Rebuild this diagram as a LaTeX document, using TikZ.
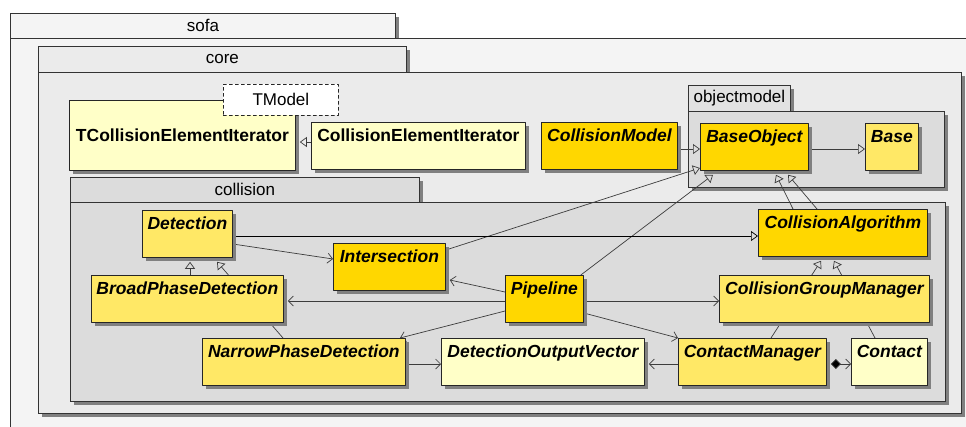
\documentclass[tikz,border=0pt]{standalone}
\usepackage{fontspec}
\setmainfont{Liberation Sans}
\usetikzlibrary{arrows.meta,shadows}

\definecolor{clsgold}{HTML}{FFD700}
\definecolor{clsyellow}{HTML}{FFE866}
\definecolor{clspale}{HTML}{FFFFC8}
\definecolor{pkgsofa}{HTML}{F4F4F4}
\definecolor{pkgcore}{HTML}{EBEBEB}
\definecolor{pkginner}{HTML}{DCDCDC}
\definecolor{shade}{HTML}{808080}
\definecolor{wire}{HTML}{3C3C3C}

\pgfdeclarelayer{pkglayer}
\pgfdeclarelayer{wirelayer}
\pgfsetlayers{pkglayer,wirelayer,main}

\tikzset{
  boxshadow/.style={drop shadow={shadow xshift=4pt,shadow yshift=-4pt,fill=shade,opacity=1}},
  pkgtab/.style={draw=black!80,line width=.8pt,anchor=north west,inner sep=0pt,font=\fontsize{17}{20}\selectfont,boxshadow},
  pkgbody/.style={draw=black!80,line width=.8pt,anchor=north west,inner sep=0pt,boxshadow},
  cls/.style={draw=black!85,line width=.8pt,anchor=north west,inner xsep=4pt,inner ysep=5pt,text height=14pt,text depth=23pt,font=\fontsize{17.5}{21}\selectfont\bfseries\itshape,boxshadow},
  upright/.style={font=\fontsize{17.5}{21}\selectfont\bfseries},
  tparam/.style={draw=black!85,dashed,line width=.7pt,fill=white,anchor=north west,inner sep=0pt,font=\fontsize{17}{20}\selectfont},
  gen/.style={draw=wire,line width=.7pt,-{Triangle[open,length=7pt,width=10pt]}},
  dep/.style={draw=wire,line width=.7pt,-{Straight Barb[length=5pt,width=10pt]}},
  comp/.style={draw=wire,line width=.7pt,{Diamond[length=10pt,width=10pt,fill=black]}-{Straight Barb[length=5pt,width=10pt]}}
}

\begin{document}
\begin{tikzpicture}[x=1pt,y=-1pt,line cap=round,line join=round]
    \useasboundingbox (0,0) rectangle (966,426);

    % packages
    \begin{pgfonlayer}{pkglayer}
    \fill[white] (0,0) rectangle (966,426);
    \node[pkgtab,fill=pkgsofa,minimum width=385,minimum height=25] (sofatab) at (10,13) {sofa};
    \node[pkgbody,fill=pkgsofa,minimum width=975,minimum height=420] (sofabody) at (10,38) {};
    \node[pkgtab,fill=pkgcore,minimum width=368,minimum height=26] (coretab) at (38,46) {core};
    \node[pkgbody,fill=pkgcore,minimum width=923,minimum height=341] (corebody) at (38,72) {};
    \node[pkgtab,fill=pkginner!60!pkgcore,minimum width=102,minimum height=26] (omtab) at (688,85) {objectmodel};
    \node[pkgbody,fill=pkginner,minimum width=256,minimum height=76] (ombody) at (688,111) {};
    \node[pkgtab,fill=pkginner,minimum width=349,minimum height=25] (colltab) at (70,177) {collision};
    \node[pkgbody,fill=pkginner,minimum width=875,minimum height=199] (collbody) at (70,202) {};
    \end{pgfonlayer}

    % classes
    \node[cls,upright,fill=clspale,minimum width=226,text height=36.5pt] (tcei) at (69,100) {TCollisionElementIterator};
    \node[tparam,minimum width=115,minimum height=31] (tmodel) at (223,84) {TModel};
    \node[cls,upright,fill=clspale,minimum width=214] (cei) at (311,122) {CollisionElementIterator};
    \node[cls,fill=clsgold,minimum width=136] (cmodel) at (541,122) {CollisionModel};
    \node[cls,fill=clsgold,minimum width=108] (baseobj) at (700,123) {BaseObject};
    \node[cls,fill=clsyellow,minimum width=53] (base) at (865,123) {Base};

    \node[cls,fill=clsyellow,minimum width=90] (detection) at (142,210) {Detection};
    \node[cls,fill=clsyellow,minimum width=192] (broad) at (91,275) {BroadPhaseDetection};
    \node[cls,fill=clsyellow,minimum width=203] (narrow) at (202,338) {NarrowPhaseDetection};
    \node[cls,fill=clsgold,minimum width=112] (inter) at (333,243) {Intersection};
    \node[cls,fill=clspale,minimum width=203] (dov) at (441,338) {DetectionOutputVector};
    \node[cls,fill=clsgold,minimum width=78] (pipe) at (505,275) {Pipeline};
    \node[cls,fill=clsgold,minimum width=169] (calg) at (758,209) {CollisionAlgorithm};
    \node[cls,fill=clsyellow,minimum width=210] (cgm) at (719,275) {CollisionGroupManager};
    \node[cls,fill=clsyellow,minimum width=148] (cman) at (678,338) {ContactManager};
    \node[cls,fill=clspale,minimum width=76] (contact) at (851,338) {Contact};

    % connectors (tips stop at the shadow edge)
    \begin{pgfonlayer}{wirelayer}
    \draw[gen] (cei.west |- 0,142) -- ([xshift=4pt]tcei.east |- 0,142);
    \draw[gen] (cmodel.east |- 0,149) -- (baseobj.west |- 0,149);
    \draw[gen] (baseobj.east |- 0,149) -- (base.west |- 0,149);
    \draw[gen] (inter.east |- 0,250) -- (baseobj.west |- 0,168);
    \draw[gen] ([xshift=-3pt]pipe.north east) -- ([yshift=-4pt]713,0 |- baseobj.south);
    \draw[gen] (793,0 |- calg.north) -- ([yshift=-4pt]776,0 |- baseobj.south);
    \draw[gen] (817,0 |- calg.north) -- ([yshift=-4pt]788,0 |- baseobj.south);
    \draw[gen,draw=black] (detection.east |- 0,236) -- (calg.west |- 0,236);
    \draw[gen] (190,0 |- broad.north) -- ([yshift=-4pt]190,0 |- detection.south);
    \draw[gen] (283,0 |- narrow.north) -- ([yshift=-4pt]217,0 |- detection.south);
    \draw[gen] (771,0 |- cman.north) -- ([yshift=-4pt]821,0 |- calg.south);
    \draw[gen] (875,0 |- contact.north) -- ([yshift=-4pt]834,0 |- calg.south);
    \draw[dep] (detection.east |- 0,244) -- (inter.west |- 0,259);
    \draw[dep] (pipe.west |- 0,292) -- ([xshift=4pt]inter.east |- 0,280);
    \draw[dep] (pipe.west |- 0,301) -- ([xshift=4pt]broad.east |- 0,301);
    \draw[dep] (pipe.west |- 0,311) -- (400,0 |- narrow.north);
    \draw[dep] (pipe.east |- 0,301) -- (cgm.west |- 0,301);
    \draw[dep] (pipe.east |- 0,313) -- (cman.north west);
    \draw[dep] (narrow.east |- 0,364) -- (dov.west |- 0,364);
    \draw[dep] (cman.west |- 0,364) -- ([xshift=4pt]dov.east |- 0,364);
    \draw[comp] ([xshift=4pt]cman.east |- 0,364) -- (contact.west |- 0,364);
    \end{pgfonlayer}
\end{tikzpicture}
\end{document}
